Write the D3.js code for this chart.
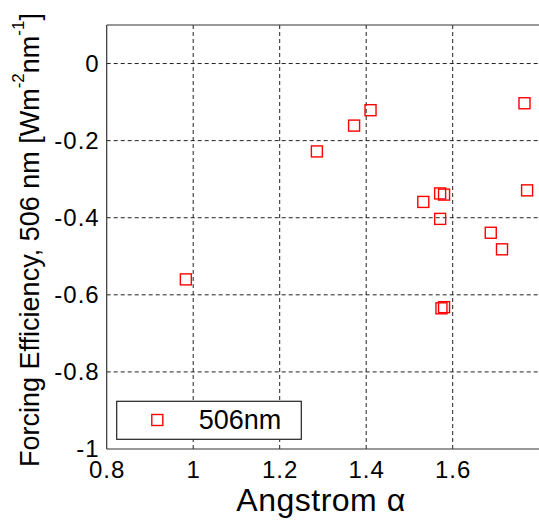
<!DOCTYPE html>
<html>
<head>
<meta charset="utf-8">
<script src="https://cdn.jsdelivr.net/npm/d3@7"></script>
<style>
  html, body { margin: 0; padding: 0; background: #fff; }
  svg { display: block; font-family: "Liberation Sans", Arial, sans-serif; }
</style>
</head>
<body>
<svg id="chart" width="539" height="524"></svg>
<script>
// ---- data ----
const angstromAlpha = [0.983, 1.286, 1.372, 1.410, 1.532, 1.571, 1.580, 1.571, 1.574, 1.580, 1.688, 1.714, 1.766, 1.772];
const forcingEff    = [-0.560, -0.228, -0.161, -0.121, -0.359, -0.337, -0.340, -0.403, -0.635, -0.632, -0.439, -0.482, -0.103, -0.329];
const xTickValues = [0.8, 1, 1.2, 1.4, 1.6];
const xTickLabels = ["0.8", "1", "1.2", "1.4", "1.6"];
const yTickValues = [0, -0.2, -0.4, -0.6, -0.8, -1];
const yTickLabels = ["0", "-0.2", "-0.4", "-0.6", "-0.8", "-1"];
const seriesName = "506nm";

// ---- layout ----
const W = 539, H = 524;
const pL = 106.7, pR = 539.2, pT = 25, pB = 449;
const svg = d3.select("#chart");

const x = d3.scaleLinear().domain([0.8, 1.8]).range([pL, pR]);
const y = d3.scaleLinear().domain([-1, 0.1]).range([pB, pT]);

const gridColor = "#222";
// grid lines
const g = svg.append("g");
g.selectAll("line.vx").data(xTickValues.filter(v => v > 0.8)).enter().append("line")
  .attr("x1", d => x(d)).attr("x2", d => x(d)).attr("y1", pT).attr("y2", pB)
  .attr("stroke", gridColor).attr("stroke-width", 1).attr("stroke-dasharray", "4,3");
g.selectAll("line.hy").data(yTickValues.filter(v => v > -1)).enter().append("line")
  .attr("y1", d => y(d)).attr("y2", d => y(d)).attr("x1", pL).attr("x2", pR)
  .attr("stroke", gridColor).attr("stroke-width", 1).attr("stroke-dasharray", "4,3");

// axes
const xAxis = d3.axisBottom(x).tickValues(xTickValues).tickFormat((d, i) => xTickLabels[i]).tickSize(0).tickPadding(12);
const yAxis = d3.axisLeft(y).tickValues(yTickValues).tickFormat((d, i) => yTickLabels[i]).tickSize(0).tickPadding(7);

const gx = svg.append("g").attr("transform", `translate(0,${pB})`).call(xAxis);
gx.select(".domain").remove();
gx.selectAll("text").attr("font-size", 24).attr("letter-spacing", 1).attr("fill", "#000")
  .attr("font-family", "Liberation Sans, Arial, sans-serif");

const gy = svg.append("g").attr("transform", `translate(${pL},0)`).call(yAxis);
gy.select(".domain").remove();
gy.selectAll("text").attr("font-size", 24).attr("letter-spacing", 1).attr("fill", "#000")
  .attr("font-family", "Liberation Sans, Arial, sans-serif");

// box lines
svg.append("line").attr("x1", pL).attr("x2", pR).attr("y1", pT).attr("y2", pT).attr("stroke", "#333").attr("stroke-width", 1.2);
svg.append("line").attr("x1", pL).attr("x2", pR).attr("y1", pB).attr("y2", pB).attr("stroke", "#333").attr("stroke-width", 1.2);
svg.append("line").attr("x1", pL).attr("x2", pL).attr("y1", pT).attr("y2", pB).attr("stroke", "#333").attr("stroke-width", 1.2);

// markers
const ms = 11;
svg.append("g").selectAll("rect").data(angstromAlpha.map((a, i) => [a, forcingEff[i]])).enter().append("rect")
  .attr("x", d => x(d[0]) - ms / 2).attr("y", d => y(d[1]) - ms / 2)
  .attr("width", ms).attr("height", ms)
  .attr("fill", "none").attr("stroke", "#ff0000").attr("stroke-width", 1.4);

// legend
const lg = svg.append("g");
lg.append("rect").attr("x", 116.7).attr("y", 401.3).attr("width", 184.6).attr("height", 38)
  .attr("fill", "#fff").attr("stroke", "#222").attr("stroke-width", 1.2);
lg.append("rect").attr("x", 157.3 - 5.5).attr("y", 420 - 5.5).attr("width", ms).attr("height", ms)
  .attr("fill", "none").attr("stroke", "#ff0000").attr("stroke-width", 1.4);
lg.append("text").attr("x", 198.7).attr("y", 429).attr("font-size", 27).attr("fill", "#000").text(seriesName);

// axis labels
svg.append("text").attr("x", 321).attr("y", 511).attr("text-anchor", "middle")
  .attr("font-size", 32).attr("letter-spacing", 0.5).attr("fill", "#000").text("Angstrom \u03B1");

const yl = svg.append("text").attr("transform", `translate(39,240) rotate(-90)`)
  .attr("text-anchor", "middle").attr("font-size", 27).attr("fill", "#000");
yl.append("tspan").text("Forcing Efficiency, 506 nm [Wm");
yl.append("tspan").attr("dy", -15).attr("font-size", 17).text("-2");
yl.append("tspan").attr("dy", 15).text("nm");
yl.append("tspan").attr("dy", -15).attr("font-size", 17).text("-1");
yl.append("tspan").attr("dy", 15).text("]");
</script>
</body>
</html>
